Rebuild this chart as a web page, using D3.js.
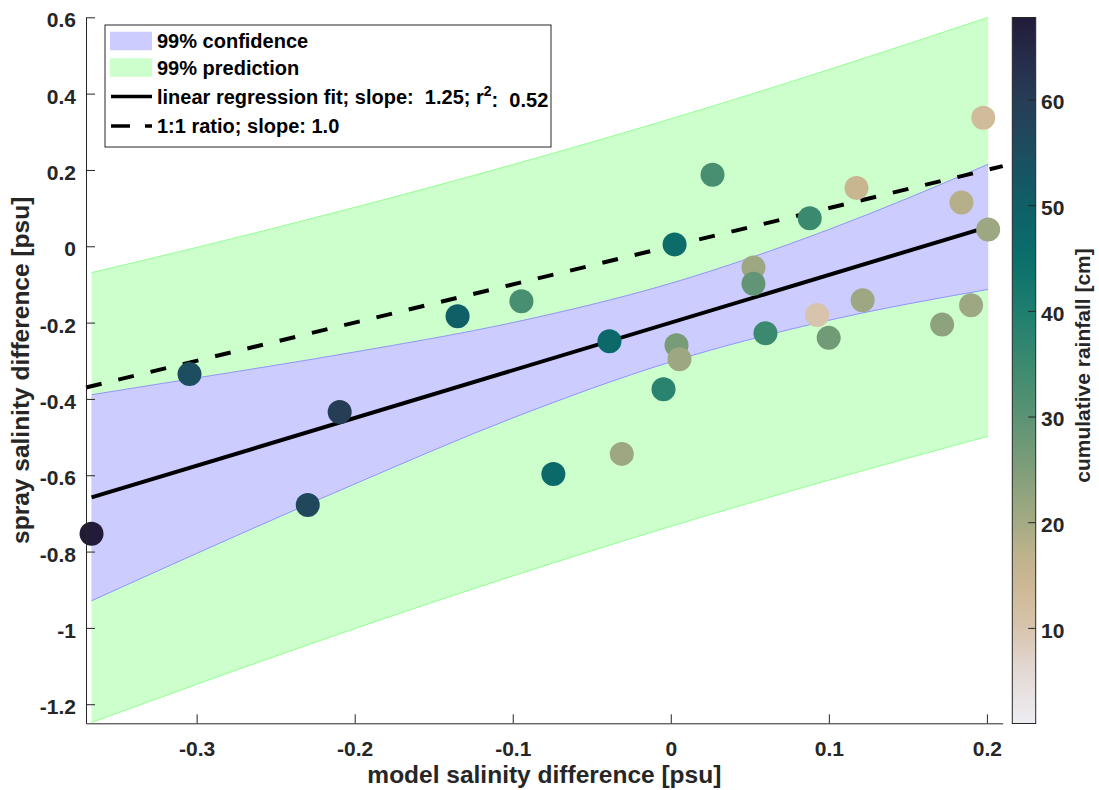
<!DOCTYPE html>
<html>
<head>
<meta charset="utf-8">
<script src="https://cdn.jsdelivr.net/npm/d3@7"></script>
<style>
  html, body { margin: 0; padding: 0; background: #ffffff; }
  svg { display: block; font-family: "Liberation Sans", Arial, Helvetica, sans-serif; font-weight: bold; }
</style>
</head>
<body>
<svg id="chart" width="1099" height="790"></svg>
<script>
// Observations: model vs. spray salinity difference, coloured by cumulative rainfall
const modelDiff = [-0.3665, -0.3045, -0.2297, -0.2095, -0.1349, -0.0945, -0.0743, -0.0388, -0.0310,
                   -0.0046, 0.0024, 0.0036, 0.0055, 0.0264, 0.0523, 0.0523, 0.0599, 0.0879,
                   0.0926, 0.0999, 0.1175, 0.1214, 0.1717, 0.1839, 0.1900, 0.1977, 0.2008];
const sprayDiff = [-0.7535, -0.3350, -0.6777, -0.4345, -0.1834, -0.1443, -0.5966, -0.2489, -0.5440,
                   -0.3745, 0.0047, -0.2596, -0.2960, 0.1877, -0.0556, -0.0980, -0.2280, 0.0735,
                   -0.1800, -0.2400, 0.1530, -0.1417, -0.2053, 0.1145, -0.1548, 0.3366, 0.0439];
const rainfall = [67.8, 55, 57, 60, 50, 33, 47, 47, 21,
                  38, 46, 26, 21, 33, 21, 29, 35, 35,
                  10, 27, 15, 21, 23, 18, 21, 13, 21];

// Linear regression fit
const fitSlope = 1.25;
const fitIntercept = -0.20;
const fitR2 = 0.52;

// 99% confidence and prediction bounds
const bandX   = [-0.3665, -0.3, -0.2, -0.1, 0, 0.1, 0.2008];
const ciLower = [-0.929, -0.805, -0.623, -0.450, -0.303, -0.194, -0.113];
const ciUpper = [-0.389, -0.345, -0.277, -0.200, -0.097, 0.044, 0.215];
const piLower = [-1.248, -1.148, -1.002, -0.864, -0.734, -0.613, -0.498];
const piUpper = [-0.069, -0.003, 0.102, 0.214, 0.334, 0.463, 0.600];

// Axis ticks
const xTicks = [-0.3, -0.2, -0.1, 0, 0.1, 0.2];
const yTicks = [0.6, 0.4, 0.2, 0, -0.2, -0.4, -0.6, -0.8, -1, -1.2];
const cTicks = [10, 20, 30, 40, 50, 60];

// Rainfall colormap stops
const rainValues = [1, 6, 10, 14, 17, 20, 25, 30, 35, 40, 45, 50, 55, 60, 64, 67.8];
const rainColors = ["#eeedf2", "#e3d9d4", "#d8c4ad", "#cdb894", "#bdb38c", "#a5aa84", "#7f9e79",
                    "#5b9374", "#3b8a6f", "#1f7e6f", "#0a6f6b", "#0f5f67", "#1c4e60", "#263d56",
                    "#262c49", "#221b3a"];

const ink = "#262626";
const svg = d3.select("#chart");

const x = d3.scaleLinear().domain([-0.37, 0.21]).range([86, 1002.7]);
const y = d3.scaleLinear().domain([-1.25, 0.6]).range([723.3, 17.3]);
const color = d3.scaleLinear().domain(rainValues).range(rainColors).interpolate(d3.interpolateRgb);

const bandRows = bandX.map((bx, i) => ({ x: bx, ciLo: ciLower[i], ciHi: ciUpper[i], piLo: piLower[i], piHi: piUpper[i] }));
const curve = d3.curveMonotoneX;

// Prediction band
svg.append("path").datum(bandRows)
  .attr("d", d3.area().curve(curve).x(d => x(d.x)).y0(d => y(d.piLo)).y1(d => y(d.piHi)))
  .attr("fill", "#ccffcc");
["piLo", "piHi"].forEach(k => {
  svg.append("path").datum(bandRows)
    .attr("d", d3.line().curve(curve).x(d => x(d.x)).y(d => y(d[k])))
    .attr("fill", "none").attr("stroke", "#80ff80").attr("stroke-width", 0.8);
});

// Confidence band
svg.append("path").datum(bandRows)
  .attr("d", d3.area().curve(curve).x(d => x(d.x)).y0(d => y(d.ciLo)).y1(d => y(d.ciHi)))
  .attr("fill", "#ccccff");
["ciLo", "ciHi"].forEach(k => {
  svg.append("path").datum(bandRows)
    .attr("d", d3.line().curve(curve).x(d => x(d.x)).y(d => y(d[k])))
    .attr("fill", "none").attr("stroke", "#8080ff").attr("stroke-width", 0.8);
});

// Regression fit over the data range
const xMin = d3.min(modelDiff), xMax = d3.max(modelDiff);
svg.append("line")
  .attr("x1", x(xMin)).attr("y1", y(fitSlope * xMin + fitIntercept))
  .attr("x2", x(xMax)).attr("y2", y(fitSlope * xMax + fitIntercept))
  .attr("stroke", "#000").attr("stroke-width", 4);

// 1:1 line across the full axis
const [dx0, dx1] = x.domain();
svg.append("line")
  .attr("x1", x(dx0)).attr("y1", y(dx0))
  .attr("x2", x(dx1)).attr("y2", y(dx1))
  .attr("stroke", "#000").attr("stroke-width", 4)
  .attr("stroke-dasharray", "16,17.2");

// Scatter points
svg.append("g").selectAll("circle")
  .data(modelDiff.map((m, i) => ({ m, s: sprayDiff[i], r: rainfall[i] })))
  .join("circle")
  .attr("cx", d => x(d.m)).attr("cy", d => y(d.s)).attr("r", 12)
  .attr("fill", d => color(d.r));

// Axes (plain hyphen-minus labels)
const tickFmt = d => String(d);
const xAxis = svg.append("g").attr("transform", `translate(0,${y(-1.25)})`)
  .call(d3.axisBottom(x).tickValues(xTicks).tickSize(-9).tickSizeOuter(0).tickPadding(18).tickFormat(tickFmt));
const yAxis = svg.append("g").attr("transform", `translate(${x(-0.37)},0)`)
  .call(d3.axisLeft(y).tickValues(yTicks).tickSize(-9).tickSizeOuter(0).tickPadding(10).tickFormat(tickFmt));
[xAxis, yAxis].forEach(g => {
  g.attr("font-family", null).attr("font-size", null);
  g.select(".domain").attr("stroke", ink).attr("stroke-width", 1);
  g.selectAll(".tick line").attr("stroke", ink).attr("stroke-width", 1);
  g.selectAll(".tick text").attr("fill", ink).style("font-size", "21px");
});
yAxis.selectAll(".tick text").attr("dy", "0.45em");

// Axis titles
svg.append("text").attr("x", (x.range()[0] + x.range()[1]) / 2).attr("y", 783)
  .attr("text-anchor", "middle").attr("fill", ink).style("font-size", "24.5px")
  .text("model salinity difference [psu]");
svg.append("text").attr("transform", `translate(29,${(y.range()[0] + y.range()[1]) / 2}) rotate(-90)`)
  .attr("text-anchor", "middle").attr("fill", ink).style("font-size", "24.5px")
  .text("spray salinity difference [psu]");

// Colorbar
const cb = { x0: 1012.3, x1: 1035.7 };
const cy = d3.scaleLinear().domain([1, 67.8]).range([723.5, 17.5]);
const grad = svg.append("defs").append("linearGradient").attr("id", "rainGrad")
  .attr("x1", 0).attr("y1", 1).attr("x2", 0).attr("y2", 0);
d3.range(0, 1.0001, 0.02).forEach(t => {
  const v = 1 + t * (67.8 - 1);
  grad.append("stop").attr("offset", t).attr("stop-color", color(v));
});
svg.append("rect").attr("x", cb.x0).attr("y", cy(67.8))
  .attr("width", cb.x1 - cb.x0).attr("height", cy(1) - cy(67.8))
  .attr("fill", "url(#rainGrad)").attr("stroke", ink).attr("stroke-width", 1);
const cbTicks = svg.append("g");
cbTicks.selectAll("line").data(cTicks).join("line")
  .attr("x1", cb.x1 - 7.5).attr("x2", cb.x1).attr("y1", d => cy(d)).attr("y2", d => cy(d))
  .attr("stroke", ink).attr("stroke-width", 1);
cbTicks.selectAll("text").data(cTicks).join("text")
  .attr("x", 1041).attr("y", d => cy(d)).attr("dy", "0.45em")
  .attr("fill", ink).style("font-size", "21px").text(d => d);
svg.append("text").attr("transform", `translate(1090,${(cy.range()[0] + cy.range()[1]) / 2 - 5}) rotate(-90)`)
  .attr("text-anchor", "middle").attr("fill", ink).style("font-size", "21px")
  .text("cumulative rainfall [cm]");

// Legend
const lg = svg.append("g");
lg.append("rect").attr("x", 105).attr("y", 25).attr("width", 446).attr("height", 122)
  .attr("fill", "#ffffff").attr("stroke", ink).attr("stroke-width", 1);
const legendRows = [
  { kind: "patch", fill: "#ccccff", cy: 41, label: "99% confidence" },
  { kind: "patch", fill: "#ccffcc", cy: 67.5, label: "99% prediction" },
  { kind: "line", dash: null, cy: 96.5, label: "fit" },
  { kind: "line", dash: "19,15", cy: 126, label: "1:1 ratio; slope: 1.0" }
];
legendRows.forEach(r => {
  if (r.kind === "patch") {
    lg.append("rect").attr("x", 110).attr("y", r.cy - 9.3).attr("width", 42).attr("height", 18.6)
      .attr("fill", r.fill);
  } else {
    lg.append("line").attr("x1", 111).attr("x2", 152).attr("y1", r.cy).attr("y2", r.cy)
      .attr("stroke", "#000").attr("stroke-width", 3.5)
      .attr("stroke-dasharray", r.dash);
  }
  const t = lg.append("text").attr("x", 157).attr("y", r.cy + 7).attr("fill", "#000")
    .style("font-size", "20px");
  if (r.label === "fit") {
    t.append("tspan").text(`linear regression fit; slope:\u00a0\u00a0${fitSlope.toFixed(2)}; r`);
    t.append("tspan").attr("dy", "-0.55em").style("font-size", "14px").text("2");
    t.append("tspan").attr("dy", "0.55em").text(`:\u00a0\u00a0${fitR2.toFixed(2)}`);
  } else {
    t.text(r.label);
  }
});
</script>
</body>
</html>
